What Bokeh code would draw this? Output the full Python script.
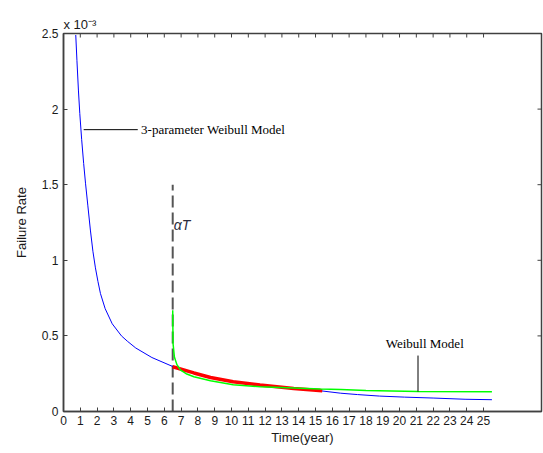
import math
from bokeh.plotting import figure
from bokeh.models import FixedTicker, NumeralTickFormatter, Label, Range1d, Title
from bokeh.embed import file_html
from bokeh.resources import INLINE

# ---- data (failure rate in units of 1e-3) ----
blue_t = [0.73, 0.80, 0.89, 0.97, 1.08, 1.2, 1.31, 1.45, 1.6, 1.75, 1.9, 2.05, 2.2,
          2.48, 2.9, 3.45, 3.8, 4.3, 5.26, 6.45, 7.76, 8.75, 10.1, 11.7, 13.7, 15.3,
          16.5, 17.5, 18.8, 20.3, 22.0, 23.9, 25.5]
blue_v = [2.49, 2.32, 2.12, 1.97, 1.80, 1.64, 1.51, 1.36, 1.20, 1.06, 0.95, 0.86, 0.78,
          0.68, 0.58, 0.50, 0.465, 0.42, 0.357, 0.300, 0.255, 0.225, 0.197, 0.175, 0.152,
          0.137, 0.121, 0.112, 0.102, 0.095, 0.089, 0.081, 0.078]

red_t = [6.5, 7.76, 8.75, 10.1, 11.7, 13.7, 15.4]
red_v = [0.296, 0.255, 0.225, 0.197, 0.175, 0.152, 0.137]

green_t = [6.5, 6.52, 6.6, 6.75, 6.97, 7.3, 7.76, 8.75, 10.1, 11.7, 13.7, 15.3,
           16.5, 18.0, 21.1, 25.5]
green_v = [0.67, 0.45, 0.36, 0.31, 0.274, 0.25, 0.23, 0.203, 0.177, 0.164, 0.155,
           0.148, 0.146, 0.139, 0.132, 0.130]

alpha_T = 6.5
x_ticks = list(range(0, 26))
y_ticks = [0, 0.5, 1, 1.5, 2, 2.5]
x_max = 28.45
y_max = 2.5

AX = "#404040"
FONT = "Liberation Sans"
SERIF = "Liberation Serif"

p = figure(frame_width=478, frame_height=378, output_backend="svg",
           toolbar_location=None,
           x_range=Range1d(0, x_max), y_range=Range1d(0, y_max),
           min_border_left=63, min_border_right=2, min_border_top=33,
           min_border_bottom=42)
p.grid.visible = False
p.outline_line_color = AX
p.outline_line_width = 1.5
p.background_fill_color = "white"
p.border_fill_color = "white"

for ax in (p.xaxis[0], p.yaxis[0]):
    ax.axis_line_color = AX
    ax.axis_line_width = 1.5
    ax.major_tick_in = 4
    ax.major_tick_out = 0
    ax.major_tick_line_color = AX
    ax.minor_tick_line_color = None
    ax.major_label_text_font = FONT
    ax.major_label_text_font_size = "12px"
    ax.major_label_text_color = "#1a1a1a"
    ax.axis_label_text_font = FONT
    ax.axis_label_text_font_size = "13px"
    ax.axis_label_text_font_style = "normal"
    ax.axis_label_text_color = "#1a1a1a"

p.xaxis[0].ticker = FixedTicker(ticks=x_ticks)
p.xaxis[0].major_label_standoff = 4
p.xaxis[0].axis_label = "Time(year)"
p.xaxis[0].axis_label_standoff = 2

p.yaxis[0].ticker = FixedTicker(ticks=y_ticks)
p.yaxis[0].formatter = NumeralTickFormatter(format="0.[0]")
p.yaxis[0].major_label_standoff = 5
p.yaxis[0].axis_label = "Failure Rate"
p.yaxis[0].axis_label_standoff = 10

# exponent shown above the y axis
p.add_layout(Title(text="x 10\u207b\u00b3", align="left", offset=0, standoff=4,
                   text_font=FONT, text_font_size="13px", text_font_style="normal",
                   text_color="#1a1a1a"), "above")

# mirrored ticks on top / right (box on)
p.ray(x=x_ticks, y=[y_max] * len(x_ticks), length=4, length_units="screen",
      angle=-math.pi / 2, line_color=AX, line_width=1)
p.ray(x=[x_max] * len(y_ticks), y=y_ticks, length=4, length_units="screen",
      angle=math.pi, line_color=AX, line_width=1)

# alpha*T marker
p.line([alpha_T, alpha_T], [0, 1.5], line_color="#555555", line_width=2,
       line_dash="12 5")

# curves
p.line(blue_t, blue_v, line_color="#0000ff", line_width=1)
p.line(red_t, red_v, line_color="#ff0000", line_width=3.5)
p.line(green_t, green_v, line_color="#00ff00", line_width=1.5)

# annotations
ann1_x = [1.2, 4.42]
ann1_y = [1.864, 1.864]
p.line(ann1_x, ann1_y, line_color="black", line_width=1)
p.add_layout(Label(x=4.62, y=1.864, text="3-parameter Weibull Model",
                   text_font=SERIF, text_font_size="13px", text_baseline="middle",
                   text_color="black"))

ann2_x = [21.1, 21.1]
ann2_y = [0.132, 0.37]
p.line(ann2_x, ann2_y, line_color="black", line_width=1)
p.add_layout(Label(x=21.5, y=0.40, text="Weibull Model", text_font=SERIF,
                   text_font_size="13px", text_align="center", text_baseline="bottom",
                   text_color="black"))

p.add_layout(Label(x=6.5, y=1.236, text="αT", text_font=FONT, text_font_size="14px",
                   text_font_style="italic", text_baseline="middle",
                   text_color="#2b2b3b", x_offset=1))

open("out.html", "w").write(file_html(p, INLINE))
